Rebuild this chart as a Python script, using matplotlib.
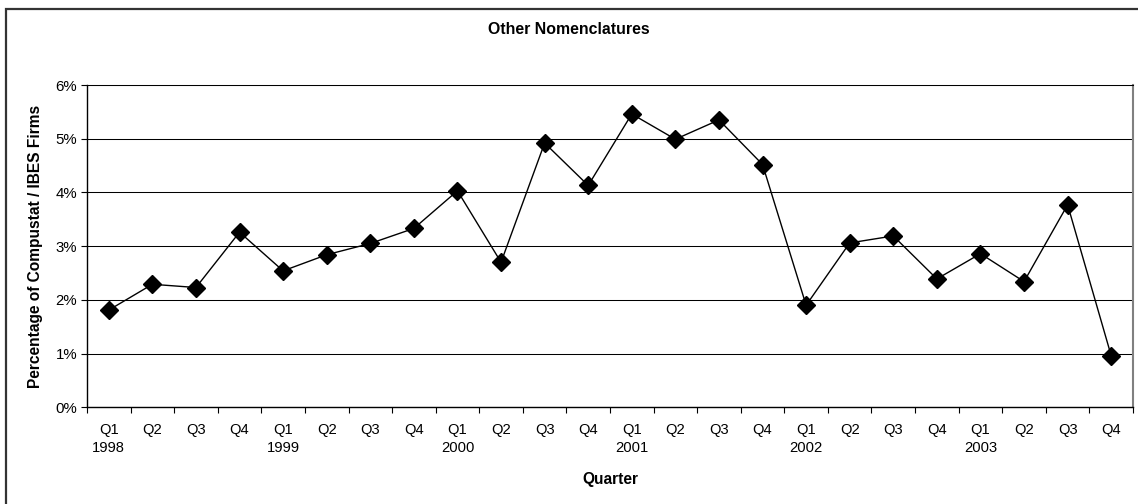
import matplotlib
matplotlib.use("Agg")
import matplotlib.pyplot as plt
from matplotlib.patches import Rectangle
from matplotlib.ticker import FuncFormatter

plt.rcParams['font.family'] = ['Liberation Sans', 'DejaVu Sans']

quarters = ["Q1", "Q2", "Q3", "Q4"] * 6
years = ["1998", "1999", "2000", "2001", "2002", "2003"]
values = [1.81, 2.29, 2.23, 3.26,
          2.54, 2.84, 3.05, 3.33,
          4.03, 2.70, 4.92, 4.13,
          5.46, 4.99, 5.35, 4.52,
          1.90, 3.06, 3.19, 2.39,
          2.86, 2.34, 3.77, 0.96]

labels = []
for i, q in enumerate(quarters):
    if i % 4 == 0:
        labels.append(q + "\n" + years[i // 4])
    else:
        labels.append(q)

W, H = 1138, 504
fig = plt.figure(figsize=(W / 100, H / 100), dpi=100)
fig.patch.set_facecolor("white")

# outer chart border
fig.patches.append(Rectangle((6 / W, -0.1), 1.2, 1 - 9 / H + 0.1,
                             transform=fig.transFigure, fill=False,
                             edgecolor="#333333", linewidth=1.6, zorder=0))

left, right = 87 / W, 1133 / W
bottom, top = 1 - 407.3 / H, 1 - 85 / H
ax = fig.add_axes([left, bottom, right - left, top - bottom])

x = list(range(len(values)))
ax.plot(x, values, color="black", linewidth=1.0, marker="D",
        markersize=9.2, markerfacecolor="black", markeredgecolor="black",
        zorder=3, clip_on=False)

ax.set_xlim(-0.5, len(values) - 0.5)
ax.set_ylim(0, 6)
ax.set_yticks(range(0, 7))
ax.yaxis.set_major_formatter(FuncFormatter(lambda v, p: f"{int(v)}%"))
ax.grid(axis="y", color="black", linewidth=0.75)
ax.set_axisbelow(True)

ax.set_xticks([i + 0.5 for i in range(-1, len(values))])
ax.set_xticklabels([])
ax.set_xticks(x, minor=True)
ax.set_xticklabels(labels, minor=True, linespacing=1.4, fontsize=10.6)
ax.tick_params(axis="x", which="minor", length=0, pad=11)
ax.tick_params(axis="x", which="major", length=4, width=0.8, direction="out")
ax.tick_params(axis="y", length=4, width=0.8, direction="out", labelsize=10.8, pad=3)

for s in ["left", "bottom"]:
    ax.spines[s].set_color("black")
    ax.spines[s].set_linewidth(1.0)
ax.spines["right"].set_color("#808080")
ax.spines["right"].set_linewidth(1.5)
ax.spines["top"].set_color("black")
ax.spines["top"].set_linewidth(0.75)

ax.set_ylabel("Percentage of Compustat / IBES Firms", fontsize=11.2,
              fontweight="bold", labelpad=9)
ax.set_xlabel("Quarter", fontsize=11.2, fontweight="bold", labelpad=12)
fig.text(0.5, 1 - 30 / H, "Other Nomenclatures", ha="center", va="center",
         fontsize=11.4, fontweight="bold")

fig.savefig("out.png", dpi=100)
